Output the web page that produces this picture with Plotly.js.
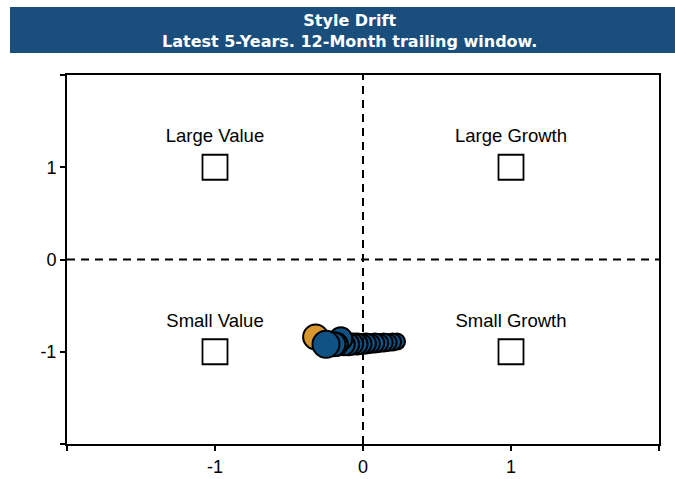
<!DOCTYPE html>
<html>
<head>
<meta charset="utf-8">
<script src="https://cdn.plot.ly/plotly-3.0.1.min.js"></script>
<style>html,body{margin:0;padding:0;background:#fff;}#chart{width:675px;height:479px;}</style>
</head>
<body>
<div id="chart"></div>
<script>
var titleLines = ["Style Drift", "Latest 5-Years. 12-Month trailing window."];
var styleNames = ["Large Value", "Large Growth", "Small Value", "Small Growth"];
var styleX = [-1, 1, -1, 1];
var styleY = [1, 1, -1, -1];
var labelY = [1.32, 1.32, -0.68, -0.68];

// drift path, oldest (right, small) to latest (left, large)
var driftX = [0.23, 0.2, 0.17, 0.14, 0.11, 0.08, 0.05, 0.02, -0.01, -0.04, -0.07, -0.1, -0.13, -0.15, -0.18, -0.2, -0.25];
var driftY = [-0.89, -0.895, -0.9, -0.9, -0.905, -0.905, -0.91, -0.91, -0.915, -0.915, -0.915, -0.92, -0.92, -0.86, -0.92, -0.92, -0.92];
var driftSize = [16, 17, 17, 18, 18, 19, 19, 20, 20, 21, 21, 22, 22, 23, 23, 24, 27];
var startX = [-0.32];
var startY = [-0.84];
var startSize = [25];

var fontFam = "Liberation Sans, Arial, sans-serif";
var titleFont = {family: "DejaVu Sans, sans-serif", size: 16, color: "#fff", weight: "bold"};

var traces = [
  {x: styleX, y: styleY, mode: "markers", type: "scatter", hoverinfo: "skip",
   marker: {symbol: "square", size: 25, color: "#ffffff", opacity: 1, line: {color: "#000", width: 1.8}}},
  {x: styleX, y: labelY, mode: "text", type: "scatter", text: styleNames, hoverinfo: "skip",
   textfont: {family: fontFam, size: 18.5, color: "#000"}},
  {x: startX, y: startY, mode: "markers", type: "scatter",
   marker: {size: startSize, color: "#d8962f", opacity: 1, line: {color: "#000", width: 2}}},
  {x: driftX, y: driftY, mode: "markers", type: "scatter",
   marker: {size: driftSize, color: "#0f5283", opacity: 1, line: {color: "#000", width: 2}}}
];

var axisCommon = {
  range: [-2, 2], showgrid: false, zeroline: false, showline: true, mirror: true,
  linecolor: "#000", linewidth: 2, ticks: "outside", ticklen: 5, tickwidth: 2, tickcolor: "#000",
  tickvals: [-2, -1, 0, 1, 2], ticktext: ["", "-1", "0", "1", ""],
  tickfont: {family: fontFam, size: 18, color: "#000"},
  fixedrange: true
};

var layout = {
  width: 675, height: 479,
  margin: {l: 67, r: 16, t: 75, b: 35},
  paper_bgcolor: "#fff", plot_bgcolor: "#fff",
  showlegend: false,
  xaxis: Object.assign({}, axisCommon),
  yaxis: Object.assign({}, axisCommon),
  annotations: [
    {text: titleLines.join("<br>"), xref: "paper", yref: "paper", x: 0.478, y: 1.119, xanchor: "center", yanchor: "middle",
     align: "center", showarrow: false, font: titleFont}
  ],
  shapes: [
    {type: "rect", xref: "paper", yref: "paper", x0: -0.0963, x1: 1.03, y0: 1.0596, y1: 1.184,
     fillcolor: "#1a4e7c", line: {width: 0}, layer: "below"},
    {type: "line", xref: "x", yref: "paper", x0: 0, x1: 0, y0: 0, y1: 1, line: {color: "#000", width: 2, dash: "8px,6px"}},
    {type: "line", xref: "paper", yref: "y", x0: 0, x1: 1, y0: 0, y1: 0, line: {color: "#000", width: 2, dash: "8px,6px"}}
  ]
};

Plotly.newPlot("chart", traces, layout, {displayModeBar: false, staticPlot: true});
</script>
</body>
</html>
